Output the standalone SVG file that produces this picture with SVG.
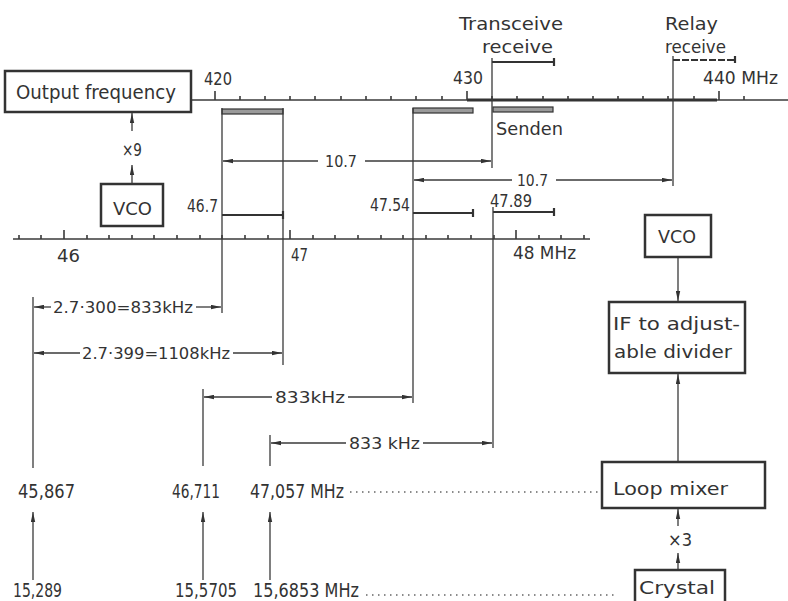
<svg xmlns="http://www.w3.org/2000/svg" width="788" height="601" viewBox="0 0 788 601">
<defs>
<marker id="ah" viewBox="0 0 10 5" refX="10" refY="2.5" markerWidth="10" markerHeight="5" markerUnits="userSpaceOnUse" orient="auto-start-reverse">
<path d="M0,0.3 L10,2.5 L0,4.7 z" fill="#333"/>
</marker>
</defs>
<style>
text{font-family:"DejaVu Sans","Liberation Sans",sans-serif;fill:#333;}
.t{font-size:18px;}
.s{font-size:16px;}
.n{font-size:17px;}
.b{font-size:19px;}
.box{fill:#fff;stroke:#333;stroke-width:2.5;}
.ln{stroke:#3a3a3a;stroke-width:1.3;fill:none;}
.ax{stroke:#3a3a3a;stroke-width:1.6;fill:none;}
.ar{stroke:#3a3a3a;stroke-width:1.3;fill:none;marker-end:url(#ah);}
.bar{fill:#9a9a9a;stroke:#333;stroke-width:1.2;}
.sb{stroke:#333;stroke-width:2.2;fill:none;}
.dot{stroke:#666;stroke-width:1.5;stroke-dasharray:1.5 4.5;fill:none;}
</style>
<rect width="788" height="601" fill="#fff"/>

<g id="top-axis">
<line class="ax" x1="190" y1="100" x2="788" y2="100"/>
<line x1="467" y1="100" x2="717" y2="100" stroke="#333" stroke-width="3.2"/>
<path class="ax" d="M215,100V91 M240,100V96 M265,100V96 M290,100V96 M315,100V96 M341,100V96 M366,100V96 M391,100V96 M416,100V96 M442,100V96 M467,100V91 M492,100V96 M517,100V96 M543,100V96 M568,100V96 M593,100V96 M618,100V96 M643,100V96 M668,100V96 M694,100V96 M719,100V91 M744,100V96"/>
<text class="t" x="204" y="85" textLength="28" lengthAdjust="spacingAndGlyphs">420</text>
<text class="t" x="453" y="84" textLength="30" lengthAdjust="spacingAndGlyphs">430</text>
<text class="t" x="703" y="84" textLength="75" lengthAdjust="spacingAndGlyphs">440 MHz</text>
</g>

<g id="output-frequency">
<rect class="box" x="5" y="71" width="186" height="41"/>
<text x="16" y="99" font-size="19" textLength="160" lengthAdjust="spacingAndGlyphs">Output frequency</text>
</g>

<g id="vco-left">
<rect class="box" x="101" y="184" width="62" height="42"/>
<text class="t" x="113" y="215" textLength="39" lengthAdjust="spacingAndGlyphs">VCO</text>
</g>
<text class="t" x="122" y="156" textLength="20" lengthAdjust="spacingAndGlyphs">×9</text>

<g id="transceive-label">
<text class="t" x="459" y="30" textLength="104" lengthAdjust="spacingAndGlyphs">Transceive</text>
<text class="t" x="482" y="53" textLength="71" lengthAdjust="spacingAndGlyphs">receive</text>
</g>
<g id="relay-label">
<text class="t" x="665" y="30" textLength="53" lengthAdjust="spacingAndGlyphs">Relay</text>
<text class="t" x="665" y="53" textLength="61" lengthAdjust="spacingAndGlyphs">receive</text>
</g>
<text class="t" x="496" y="135" textLength="67" lengthAdjust="spacingAndGlyphs">Senden</text>

<g id="bars">
<rect class="bar" x="222" y="109" width="61" height="5"/>
<rect class="bar" x="413" y="108" width="60" height="5"/>
<rect class="bar" x="493" y="107" width="60" height="5"/>
<path class="sb" d="M492,62H554 M554,58V66"/>
<path class="sb" d="M673,60H735 M735,56V64" stroke-dasharray="7 2"/>
<path class="sb" d="M222,215H283 M283,211V219"/>
<path class="sb" d="M413,213H473 M473,209V217"/>
<path class="sb" d="M493,212H554 M554,208V216"/>
</g>

<g id="bottom-axis">
<line class="ax" x1="13" y1="239" x2="590" y2="239"/>
<path class="ax" d="M19,239V235 M41,239V235 M64,239V230 M87,239V235 M109,239V235 M132,239V235 M154,239V235 M177,239V235 M200,239V235 M222,239V235 M245,239V235 M268,239V235 M290,239V230 M313,239V235 M335,239V235 M358,239V235 M381,239V235 M403,239V235 M426,239V235 M448,239V235 M471,239V235 M494,239V235 M516,239V230 M539,239V235 M561,239V235 M584,239V235"/>
<text class="t" x="57" y="262" textLength="23" lengthAdjust="spacingAndGlyphs">46</text>
<text class="t" x="291" y="261" textLength="17" lengthAdjust="spacingAndGlyphs">47</text>
<text class="t" x="513" y="259" textLength="63" lengthAdjust="spacingAndGlyphs">48 MHz</text>
<text class="n" x="187" y="212" textLength="31" lengthAdjust="spacingAndGlyphs">46.7</text>
<text class="n" x="370" y="211" textLength="40" lengthAdjust="spacingAndGlyphs">47.54</text>
<text class="n" x="490" y="207" textLength="42" lengthAdjust="spacingAndGlyphs">47.89</text>
</g>

<g id="connectors">
<line class="ln" x1="222" y1="108" x2="222" y2="313"/>
<line class="ln" x1="283" y1="108" x2="283" y2="365"/>
<line class="ln" x1="413" y1="108" x2="413" y2="403"/>
<line class="ln" x1="492" y1="58" x2="492" y2="168"/>
<line class="ln" x1="493" y1="207" x2="493" y2="448"/>
<line class="ln" x1="673" y1="56" x2="673" y2="186"/>
<line class="ln" x1="33" y1="297" x2="33" y2="468"/>
<line class="ln" x1="203" y1="389" x2="203" y2="466"/>
<line class="ln" x1="270" y1="435" x2="270" y2="466"/>

<line class="ar" x1="318" y1="161" x2="223" y2="161"/>
<line class="ar" x1="365" y1="161" x2="491" y2="161"/>
<line class="ar" x1="512" y1="180" x2="414" y2="180"/>
<line class="ar" x1="556" y1="180" x2="672" y2="180"/>
<line class="ar" x1="51" y1="307" x2="34" y2="307"/>
<line class="ar" x1="196" y1="307" x2="221" y2="307"/>
<line class="ar" x1="80" y1="353" x2="34" y2="353"/>
<line class="ar" x1="233" y1="353" x2="282" y2="353"/>
<line class="ar" x1="272" y1="397" x2="204" y2="397"/>
<line class="ar" x1="348" y1="397" x2="412" y2="397"/>
<line class="ar" x1="346" y1="443" x2="271" y2="443"/>
<line class="ar" x1="423" y1="443" x2="492" y2="443"/>

<line class="ar" x1="33" y1="580" x2="33" y2="512"/>
<line class="ar" x1="203" y1="580" x2="203" y2="512"/>
<line class="ar" x1="270" y1="580" x2="270" y2="512"/>

<line class="ar" x1="132" y1="131" x2="132" y2="113"/>
<line class="ar" x1="132" y1="184" x2="132" y2="165"/>

<line class="ar" x1="678" y1="257" x2="678" y2="301"/>
<line class="ar" x1="678" y1="462" x2="678" y2="374"/>
<line class="ar" x1="678" y1="526" x2="678" y2="509"/>
<line class="ar" x1="678" y1="570" x2="678" y2="553"/>

<line class="dot" x1="350" y1="492" x2="600" y2="492"/>
<line class="dot" x1="366" y1="595" x2="618" y2="595"/>
</g>

<g id="dim-labels">
<text class="s" x="325" y="167" textLength="32" lengthAdjust="spacingAndGlyphs">10.7</text>
<text class="s" x="517" y="186" textLength="31" lengthAdjust="spacingAndGlyphs">10.7</text>
<text class="s" x="53" y="313" textLength="140" lengthAdjust="spacingAndGlyphs">2.7·300=833kHz</text>
<text class="s" x="82" y="359" textLength="148" lengthAdjust="spacingAndGlyphs">2.7·399=1108kHz</text>
<text class="s" x="275" y="403" textLength="70" lengthAdjust="spacingAndGlyphs">833kHz</text>
<text class="s" x="349" y="449" textLength="71" lengthAdjust="spacingAndGlyphs">833 kHz</text>
</g>

<g id="freq-labels">
<text class="b" x="18" y="498" textLength="57" lengthAdjust="spacingAndGlyphs">45,867</text>
<text class="b" x="172" y="498" textLength="48" lengthAdjust="spacingAndGlyphs">46,711</text>
<text class="b" x="250" y="498" textLength="94" lengthAdjust="spacingAndGlyphs">47,057 MHz</text>
<text class="b" x="13" y="597" textLength="49" lengthAdjust="spacingAndGlyphs">15,289</text>
<text class="b" x="175" y="597" textLength="62" lengthAdjust="spacingAndGlyphs">15,5705</text>
<text class="b" x="253" y="597" textLength="106" lengthAdjust="spacingAndGlyphs">15,6853 MHz</text>
</g>

<g id="vco-right">
<rect class="box" x="645" y="215" width="66" height="42"/>
<text class="t" x="658" y="243" textLength="38" lengthAdjust="spacingAndGlyphs">VCO</text>
</g>
<g id="if-divider">
<rect class="box" x="609" y="302" width="136" height="71"/>
<text class="t" x="613" y="330" textLength="127" lengthAdjust="spacingAndGlyphs">IF to adjust-</text>
<text class="t" x="614" y="358" textLength="118" lengthAdjust="spacingAndGlyphs">able divider</text>
</g>
<g id="loop-mixer">
<rect class="box" x="602" y="462" width="163" height="46"/>
<text class="t" x="613" y="495" textLength="115" lengthAdjust="spacingAndGlyphs">Loop  mixer</text>
</g>
<text class="t" x="668" y="546" textLength="24" lengthAdjust="spacingAndGlyphs">×3</text>
<g id="crystal">
<rect class="box" x="635" y="570" width="90" height="40"/>
<text class="t" x="639" y="594" textLength="76" lengthAdjust="spacingAndGlyphs">Crystal</text>
</g>
</svg>
